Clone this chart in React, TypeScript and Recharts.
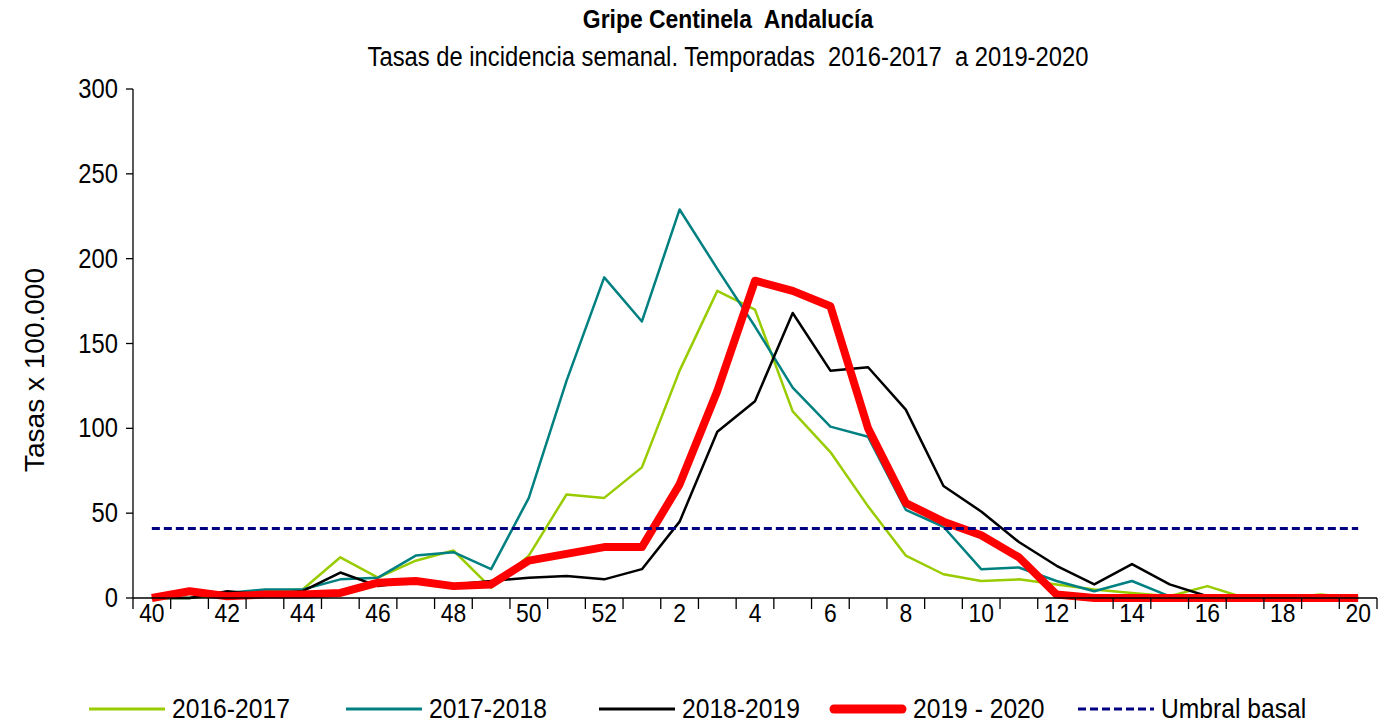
import React from 'react';
import { LineChart, Line, XAxis, YAxis, Legend } from 'recharts';

// semanas epidemiológicas (temporada de la 40 a la 20)
const weeks = [40, 41, 42, 43, 44, 45, 46, 47, 48, 49, 50, 51, 52, 1, 2, 3, 4, 5, 6, 7, 8, 9, 10, 11, 12, 13, 14, 15, 16, 17, 18, 19, 20];

const temporada1617 = [0, 0, 2, 4, 5, 24, 12, 22, 28, 6, 25, 61, 59, 77, 134, 181, 170, 110, 86, 54, 25, 14, 10, 11, 8, 5, 3, 1, 7, 0, 0, 2, 0];
const temporada1718 = [0, 0, 3, 5, 5, 11, 12, 25, 27, 17, 59, 128, 189, 163, 229, 194, 160, 124, 101, 95, 52, 42, 17, 18, 10, 4, 10, 1, 0, 0, 0, 0, 0];
const temporada1819 = [0, 0, 4, 2, 4, 15, 7, 10, 8, 10, 12, 13, 11, 17, 45, 98, 116, 168, 134, 136, 111, 66, 51, 33, 19, 8, 20, 8, 1, 0, 0, 0, 0];
const temporada1920 = [0, 4, 1, 2, 2, 3, 9, 10, 7, 8, 22, 26, 30, 30, 67, 122, 187, 181, 172, 100, 56, 45, 37, 24, 2, 0, 0, 0, 0, 0, 0, 0, 0];
const umbralBasal = 41;

const yTicks = [0, 50, 100, 150, 200, 250, 300];

const W = 1383;
const H = 726;
const FONT = "'Liberation Sans', Arial, sans-serif";
const MARGIN = { top: 89, right: 6, left: 0, bottom: 0 };
const Y_AXIS_W = 133;
const LEGEND_H = 34;
const STEP = (W - Y_AXIS_W - MARGIN.right) / weeks.length;

const data = weeks.map((w, i) => ({
  i,
  week: w,
  t1617: temporada1617[i],
  t1718: temporada1718[i],
  t1819: temporada1819[i],
  t1920: temporada1920[i],
  umbral: umbralBasal,
}));

const legendItems = [
  { label: '2016-2017', color: '#99CC00', width: 3, dash: '', left: 88 },
  { label: '2017-2018', color: '#008080', width: 3, dash: '', left: 345 },
  { label: '2018-2019', color: '#000000', width: 3, dash: '', left: 598 },
  { label: '2019 - 2020', color: '#FF0000', width: 9, dash: '', left: 829 },
  { label: 'Umbral basal', color: '#000080', width: 3, dash: '8 4', left: 1077 },
];

// condensed look: slightly taller glyphs squeezed horizontally
const SQUEEZE = 0.88;

function XTick(props: any) {
  const { x, y, payload } = props;
  const i = payload.value as number;
  const half = STEP / 2;
  return (
    <g>
      {i === 0 && <line x1={x - half} x2={x - half} y1={y} y2={y + 11} stroke="#000" strokeWidth={1.3} />}
      <line x1={x + half} x2={x + half} y1={y} y2={y + 11} stroke="#000" strokeWidth={1.3} />
      {i % 2 === 0 && (
        <text transform={`translate(${x},${y + 24}) scale(${SQUEEZE},1)`} textAnchor="middle" fontSize={26} fill="#000" fontFamily={FONT}>
          {weeks[i]}
        </text>
      )}
    </g>
  );
}

function YTick(props: any) {
  const { x, y, payload } = props;
  return (
    <text transform={`translate(${x},${y + 9}) scale(${SQUEEZE},1)`} textAnchor="end" fontSize={27} fill="#000" fontFamily={FONT}>
      {payload.value}
    </text>
  );
}

function LegendContent() {
  return (
    <div style={{ position: 'relative', width: W, height: LEGEND_H, fontFamily: FONT }}>
      {legendItems.map((it) => (
        <div key={it.label} style={{ position: 'absolute', left: it.left, top: 0, height: LEGEND_H, display: 'flex', alignItems: 'center' }}>
          <svg width={78} height={LEGEND_H}>
            <line x1={it.width > 4 ? 5 : 1} x2={it.width > 4 ? 73 : 77} y1={LEGEND_H / 2} y2={LEGEND_H / 2} stroke={it.color} strokeWidth={it.width} strokeDasharray={it.dash} strokeLinecap={it.width > 4 ? 'round' : 'butt'} />
          </svg>
          <span style={{ marginLeft: 6, fontSize: 28, color: '#000', whiteSpace: 'nowrap', display: 'inline-block', transform: `scaleX(${SQUEEZE})`, transformOrigin: 'left center' }}>{it.label}</span>
        </div>
      ))}
    </div>
  );
}

export default function App() {
  return (
    <div style={{ position: 'absolute', left: 0, top: 0, width: W, height: H, background: '#fff', fontFamily: FONT }}>
      <div style={{ position: 'absolute', left: 728, top: 4, transform: `translateX(-50%) scaleX(${SQUEEZE})`, whiteSpace: 'nowrap', fontSize: 26, fontWeight: 700, color: '#000' }}>
        Gripe Centinela&nbsp; Andalucía
      </div>
      <div style={{ position: 'absolute', left: 728, top: 42, transform: `translateX(-50%) scaleX(${SQUEEZE})`, whiteSpace: 'nowrap', fontSize: 27, color: '#000' }}>
        Tasas de incidencia semanal. Temporadas&nbsp; 2016-2017&nbsp; a 2019-2020
      </div>
      <LineChart width={W} height={H} data={data} margin={MARGIN}>
        <XAxis
          dataKey="i"
          type="number"
          domain={[-0.5, weeks.length - 0.5]}
          ticks={weeks.map((_, i) => i)}
          interval={0}
          tickLine={false}
          tickSize={0}
          tickMargin={0}
          tick={<XTick />}
          axisLine={{ stroke: '#000', strokeWidth: 1.3 }}
          height={H - 598 - LEGEND_H - MARGIN.bottom}
        />
        <YAxis
          type="number"
          domain={[0, 300]}
          ticks={yTicks}
          interval={0}
          width={Y_AXIS_W}
          tickSize={7}
          tickMargin={8}
          axisLine={{ stroke: '#000', strokeWidth: 1.3 }}
          tickLine={{ stroke: '#000', strokeWidth: 1.3 }}
          tick={<YTick />}
          label={() => (
            <text transform="translate(44,370) rotate(-90)" textAnchor="middle" fontSize={28} fill="#000" fontFamily={FONT}>
              Tasas x 100.000
            </text>
          )}
        />
        <Legend verticalAlign="bottom" height={LEGEND_H} content={<LegendContent />} wrapperStyle={{ left: 0, width: W }} />
        <Line dataKey="t1617" name="2016-2017" stroke="#99CC00" strokeWidth={2.5} dot={false} isAnimationActive={false} strokeLinejoin="round" />
        <Line dataKey="t1718" name="2017-2018" stroke="#008080" strokeWidth={2.5} dot={false} isAnimationActive={false} strokeLinejoin="round" />
        <Line dataKey="t1819" name="2018-2019" stroke="#000000" strokeWidth={2.5} dot={false} isAnimationActive={false} strokeLinejoin="round" />
        <Line dataKey="t1920" name="2019 - 2020" stroke="#FF0000" strokeWidth={8} dot={false} isAnimationActive={false} strokeLinejoin="round" />
        <Line dataKey="umbral" name="Umbral basal" stroke="#000080" strokeWidth={3} strokeDasharray="8 4" dot={false} isAnimationActive={false} />
      </LineChart>
    </div>
  );
}
